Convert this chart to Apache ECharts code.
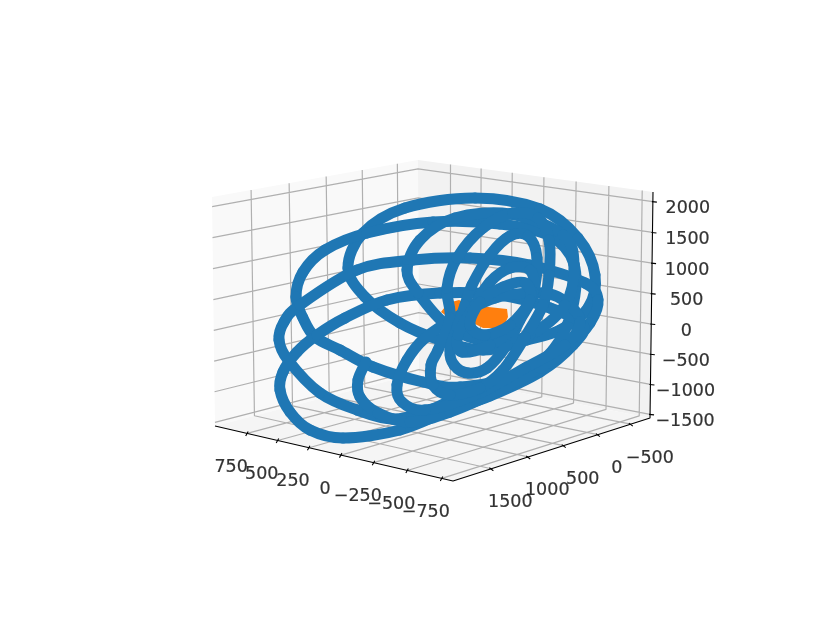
<!DOCTYPE html>
<html>
<head>
<meta charset="utf-8" />
<title>3D orbit</title>
<script src="https://cdn.jsdelivr.net/npm/echarts@6/dist/echarts.min.js"></script>
<style>
html,body{margin:0;padding:0;background:#fff}
#main{width:834px;height:626px}
</style>
</head>
<body>
<div id="main"></div>
<script>
// tick values
var xTicks = [750, 500, 250, 0, -250, -500, -750];
var yTicks = [-500, 0, 500, 1000, 1500];
var zTicks = [-1500, -1000, -500, 0, 500, 1000, 1500, 2000];
var xLimits = [-830, 1020];
var yLimits = [-800, 2000];
var zLimits = [-1560, 2155];

// the big orbit, as [plot x, plot y] in photo units, one loop per array
var loop1 = [[348,268],[363,233],[405,208],[475,198],[540,209],[578,238],[595,275],[588,308],[560,330],[527,340],[483,350],[440,340],[400,323],[365,297],[348,268]];
var loop2 = [[296,297],[303,272],[325,250],[367,233],[433,222],[500,224],[550,236],[574,264],[572,310],[553,350],[520,375],[460,387],[423,382],[373,367],[340,350],[315,337],[303,318],[296,297]];
var loop3 = [[279,340],[284,322],[300,305],[357,270],[413,260],[470,258],[530,265],[585,283],[598,300],[590,323],[567,348],[540,366],[515,378],[490,386],[460,396],[430,410],[393,419],[357,410],[320,393],[288,360],[279,340]];
var loop4 = [[280,390],[283,372],[297,352],[317,335],[345,318],[387,300],[440,293],[500,295],[550,308],[583,325],[573,345],[540,372],[490,396],[450,410],[400,430],[343,438],[310,430],[290,412],[280,390]];
var loop5 = [[366,362],[358,380],[360,397],[378,413],[410,422],[450,412],[500,390],[540,368],[570,347]];
var loop6 = [[397,385],[407,360],[425,338],[455,318],[495,298],[543,293],[567,303],[580,322],[565,345],[525,368],[475,395],[425,410],[402,402],[397,385]];
var loop7 = [[407,270],[420,240],[455,218],[510,214],[563,235],[574,265],[565,305],[530,335],[490,342],[448,326],[418,293],[407,270]];
var loop8 = [[450,318],[447,288],[457,258],[483,228],[513,213],[538,218],[549,240],[549,275],[543,305],[525,337],[503,370],[480,388],[450,395],[433,385],[431,365],[438,350],[450,318]];
var loop9 = [[465,305],[472,285],[490,255],[510,236],[528,236],[537,258],[533,295],[520,320],[507,345],[487,368],[468,373],[454,365],[450,350],[457,328],[465,305]];
var loop10 = [[475,305],[490,282],[510,268],[530,270],[533,292],[515,325],[490,345],[462,352],[458,335],[475,305]];
var loop11 = [[480,302],[503,287],[525,283],[530,300],[510,325],[485,335],[470,325],[480,302]];
var orbits = [loop1, loop2, loop3, loop4, loop5, loop6, loop7, loop8, loop9, loop10, loop11];

// the small orange body, mostly hidden behind the orbit
var inner = [[441,312],[448,303],[459,300],[470,305],[507,309],[508,317],[503,328],[483,328],[471,322],[455,322]];

// the three walls as seen in the photo
var floorQuad = [[419,373],[650,418],[453,481],[215,426]];
var leftQuad = [[418,160],[212,197],[215,426],[419,373]];
var rightQuad = [[418,160],[653,192],[650,418],[419,373]];

// square to quad map, so ticks land with the same foreshortening as the box
function quadMap(q){
	var dx1=q[1][0]-q[2][0], dx2=q[3][0]-q[2][0], sx=q[0][0]-q[1][0]+q[2][0]-q[3][0];
	var dy1=q[1][1]-q[2][1], dy2=q[3][1]-q[2][1], sy=q[0][1]-q[1][1]+q[2][1]-q[3][1];
	var d=dx1*dy2-dx2*dy1;
	var g=(sx*dy2-dx2*sy)/d, h=(dx1*sy-sx*dy1)/d;
	var a=q[1][0]-q[0][0]+g*q[1][0], b=q[3][0]-q[0][0]+h*q[3][0];
	var e=q[1][1]-q[0][1]+g*q[1][1], f=q[3][1]-q[0][1]+h*q[3][1];
	return function(u,v){
		var w=g*u+h*v+1;
		return [(a*u+b*v+q[0][0])/w,(e*u+f*v+q[0][1])/w];
	};
}
function fx(x){return (xLimits[1]-x)/(xLimits[1]-xLimits[0]);}
function fy(y){return (y-yLimits[0])/(yLimits[1]-yLimits[0]);}
function fz(z){return (zLimits[1]-z)/(zLimits[1]-zLimits[0]);}
var onFloor=quadMap(floorQuad), onLeft=quadMap(leftQuad), onRight=quadMap(rightQuad);

var gridLines=[], tickLines=[], xLabels=[], yLabels=[], zLabels=[];
xTicks.forEach(function(t){
	var u=fx(t), a=onFloor(u,1), b=onFloor(u,0), c=onRight(u,0);
	gridLines.push(a,b,c,null);
	tickLines.push([a[0]-1.5,a[1]+2.5],[a[0]+1,a[1]-2],null);
	xLabels.push({value:[a[0]-16,a[1]+34],name:String(t).replace('-','\u2212')});
});
yTicks.forEach(function(t){
	var v=fy(t), a=onFloor(1,v), b=onFloor(0,v), c=onLeft(v,0);
	gridLines.push(a,b,c,null);
	tickLines.push([a[0]+2,a[1]+2],[a[0]-2,a[1]-1],null);
	yLabels.push({value:[a[0]+19,a[1]+34],name:String(t).replace('-','\u2212')});
});
zTicks.forEach(function(t){
	var w=fz(t), a=onLeft(1,w), b=onLeft(0,w), c=onRight(1,w);
	gridLines.push(a,b,c,null);
	tickLines.push([c[0]-1,c[1]],[c[0]+4,c[1]+0.5],null);
	zLabels.push({value:[c[0]+35,c[1]+7],name:String(t).replace('-','\u2212')});
});

function pane(q,color,z){
	return {type:'custom',coordinateSystem:'cartesian2d',z:z,silent:true,data:[0],
		renderItem:function(params,api){
			return {type:'polygon',shape:{points:q.map(function(p){return api.coord(p);})},style:{fill:color}};
		}};
}
function labels(data){
	return {type:'scatter',data:data,symbolSize:0,z:6,silent:true,
		label:{show:true,position:'inside',formatter:'{b}',color:'#000',textBorderColor:'#000',textBorderWidth:0.2,fontFamily:'DejaVu Sans',fontSize:17.5}};
}
function orbitSeries(loop){
	var closed=loop[0][0]===loop[loop.length-1][0]&&loop[0][1]===loop[loop.length-1][1];
	var n=loop.length;
	function pick(i){
		if(closed){return loop[((i%(n-1))+(n-1))%(n-1)];}
		return loop[Math.max(0,Math.min(n-1,i))];
	}
	return {type:'custom',coordinateSystem:'cartesian2d',z:4,silent:true,clip:false,
		data:loop.slice(0,n-1),
		encode:{x:0,y:1},
		renderItem:function(params,api){
			var i=params.dataIndex;
			var p0=api.coord(pick(i-1)),p1=api.coord(pick(i)),p2=api.coord(pick(i+1)),p3=api.coord(pick(i+2));
			return {type:'bezierCurve',shape:{
				x1:p1[0],y1:p1[1],x2:p2[0],y2:p2[1],
				cpx1:p1[0]+(p2[0]-p0[0])/6,cpy1:p1[1]+(p2[1]-p0[1])/6,
				cpx2:p2[0]-(p3[0]-p1[0])/6,cpy2:p2[1]-(p3[1]-p1[1])/6
			},style:{stroke:'#1f77b4',lineWidth:11,lineCap:'round',fill:null}};
		}};
}

var series=[
	pane(leftQuad,'#f9f9f9',1),
	pane(rightQuad,'#f2f2f2',1),
	pane(floorQuad,'#f5f5f5',1),
	{type:'line',data:gridLines,symbol:'none',z:2,silent:true,connectNulls:false,lineStyle:{color:'#b0b0b0',width:1.2}},
	pane(inner,'#ff7f0e',3),
	{type:'line',data:[floorQuad[3],floorQuad[2],floorQuad[1],rightQuad[1]],symbol:'none',z:5,silent:true,lineStyle:{color:'#000',width:1.1}},
	{type:'line',data:tickLines,symbol:'none',z:5,silent:true,connectNulls:false,lineStyle:{color:'#000',width:1.1}},
	labels(xLabels),labels(yLabels),labels(zLabels)
];
orbits.forEach(function(loop){series.push(orbitSeries(loop));});

var myChart=echarts.init(document.getElementById('main'));
myChart.setOption({
	animation:false,
	backgroundColor:'#fff',
	grid:{left:0,right:0,top:0,bottom:0},
	xAxis:{type:'value',min:0,max:834,show:false},
	yAxis:{type:'value',min:0,max:626,inverse:true,show:false},
	series:series
});
</script>
</body>
</html>
